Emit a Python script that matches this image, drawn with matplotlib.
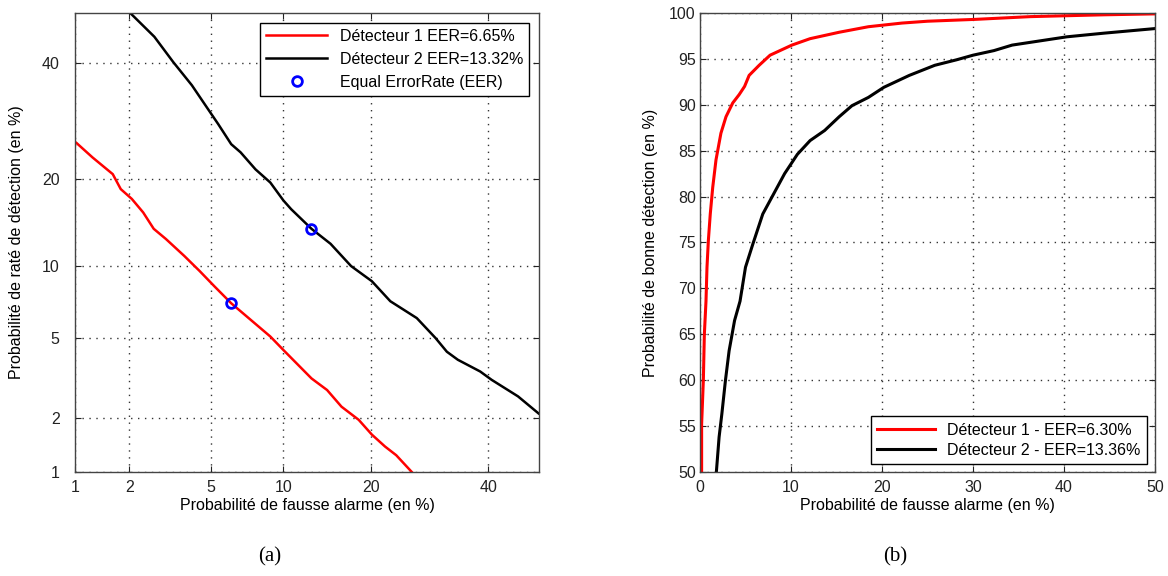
import numpy as np
import matplotlib
matplotlib.use('Agg')
import matplotlib.pyplot as plt
from statistics import NormalDist

# DET curves (a) : false alarm % vs miss %
det1_fa = [1.02, 1.26, 1.63, 1.8, 2.06, 2.36, 2.67, 3.07, 3.77, 4.44, 5.18, 6.14, 8.9, 10.0,
           12.7, 14.4, 16.1, 18.3, 20.1, 22.0, 23.7, 26.4]
det1_miss = [25.5, 23.2, 20.7, 18.6, 17.3, 15.6, 13.7, 12.6, 10.9, 9.55, 8.3, 7.06, 5.05, 4.38,
             3.2, 2.8, 2.3, 1.96, 1.63, 1.40, 1.25, 0.98]
det2_fa = [2.02, 2.69, 3.33, 4.09, 4.89, 5.38, 6.14, 6.73, 7.76, 8.9, 10.0, 10.7, 12.7, 14.8,
           17.3, 20.1, 22.8, 27.0, 30.2, 32.2, 34.2, 38.4, 40.6, 45.8, 49.9]
det2_miss = [50.0, 45.2, 40.2, 35.7, 31.1, 28.7, 25.3, 24.0, 21.4, 19.5, 17.1, 16.0, 13.7, 12.1,
             9.98, 8.7, 7.2, 6.1, 4.97, 4.3, 3.94, 3.46, 3.15, 2.6, 2.12]
eer_fa = [6.14, 12.7]
eer_miss = [7.06, 13.7]

# ROC curves (b) : false alarm % vs detection %
roc1_fa = [0.18, 0.18, 0.37, 0.48, 0.66, 0.77, 0.92, 1.13, 1.4, 1.76, 2.3, 2.86, 3.6, 4.3, 4.9,
           5.4, 6.5, 7.7, 10.1, 12.1, 15.3, 18.5, 22.2, 25.0, 30.2, 36.3, 40.3, 44.4, 50.0]
roc1_pd = [50.0, 55.2, 60.0, 65.0, 68.6, 72.3, 75.2, 78.1, 81.0, 84.0, 86.9, 88.7, 90.2, 91.1, 92.0,
           93.2, 94.3, 95.4, 96.5, 97.2, 97.9, 98.5, 98.9, 99.1, 99.3, 99.6, 99.7, 99.8, 99.9]
roc2_fa = [1.8, 2.1, 2.4, 2.8, 3.2, 3.8, 4.4, 5.0, 5.8, 6.9, 8.1, 9.3, 10.7, 12.1, 13.7, 15.3,
           16.7, 18.5, 20.2, 23.0, 25.8, 28.2, 30.0, 32.3, 34.3, 36.3, 40.3, 44.4, 50.0]
roc2_pd = [50.0, 53.8, 56.3, 60.0, 63.2, 66.5, 68.6, 72.3, 74.8, 78.1, 80.3, 82.5, 84.6, 86.1,
           87.2, 88.7, 89.9, 90.8, 91.9, 93.2, 94.3, 94.9, 95.4, 95.9, 96.5, 96.8, 97.4, 97.8, 98.3]

det_ticks = [1, 2, 5, 10, 20, 40]

nd = NormalDist()
_ppf = np.vectorize(nd.inv_cdf, otypes=[float])
_cdf = np.vectorize(nd.cdf, otypes=[float])


def probit(p):
    p = np.clip(np.asarray(p, dtype=float) / 100.0, 1e-9, 1 - 1e-9)
    return _ppf(p)


def inv_probit(z):
    return _cdf(np.asarray(z, dtype=float)) * 100.0


plt.rcParams['font.family'] = ['Liberation Sans', 'DejaVu Sans']
plt.rcParams['font.size'] = 11.5

fig = plt.figure(figsize=(11.68, 5.76), dpi=100)
ax1 = fig.add_axes([0.0642, 0.1806, 0.3973, 0.7969])
ax2 = fig.add_axes([0.5993, 0.1806, 0.3896, 0.7969])

# (a) DET
ax1.set_xscale('function', functions=(probit, inv_probit))
ax1.set_yscale('function', functions=(probit, inv_probit))
ax1.plot(det1_fa, det1_miss, color='#ff0000', lw=1.8, label='Détecteur 1 EER=6.65%')
ax1.plot(det2_fa, det2_miss, color='black', lw=1.8, label='Détecteur 2 EER=13.32%')
ax1.plot(eer_fa, eer_miss, 'o', mfc='none', mec='#0000ff', mew=2, ms=7, ls='none',
         label='Equal ErrorRate (EER)')
ax1.set_xlim(1, 50)
ax1.set_ylim(1, 50)
ax1.set_xticks(det_ticks)
ax1.set_xticklabels([str(t) for t in det_ticks])
ax1.set_yticks(det_ticks)
ax1.set_yticklabels([str(t) for t in det_ticks])
ax1.minorticks_off()
ax1.tick_params(axis='y', pad=11)
ax1.tick_params(axis='x', pad=6)
ax1.set_xlabel('Probabilité de fausse alarme (en %)', labelpad=2)
ax1.set_ylabel('Probabilité de raté de détection (en %)', labelpad=13)
leg1 = ax1.legend(loc='upper right', fancybox=False, edgecolor='black', framealpha=1,
                  handlelength=3.8, borderaxespad=0.6, labelspacing=0.5)
leg1.get_frame().set_linewidth(1.0)

# (b) ROC
ax2.plot(roc1_fa, roc1_pd, color='#ff0000', lw=2.2, label='Détecteur 1 - EER=6.30%')
ax2.plot(roc2_fa, roc2_pd, color='black', lw=2.2, label='Détecteur 2 - EER=13.36%')
ax2.set_xlim(0, 50)
ax2.set_ylim(50, 100)
ax2.set_xticks(np.arange(0, 51, 10))
ax2.set_yticks(np.arange(50, 101, 5))
ax2.tick_params(axis='x', pad=6)
ax2.tick_params(axis='y', pad=3)
ax2.set_xlabel('Probabilité de fausse alarme (en %)', labelpad=2)
ax2.set_ylabel('Probabilité de bonne détection (en %)', labelpad=8)
leg2 = ax2.legend(loc='lower right', fancybox=False, edgecolor='black', framealpha=1,
                  handlelength=3.6, borderaxespad=0.5, labelspacing=0.3)
leg2.get_frame().set_linewidth(1.0)

for ax in (ax1, ax2):
    ax.grid(True, linestyle=(0, (1, 4)), color='#333333', linewidth=1.0)
    ax.set_axisbelow(True)
    ax.tick_params(direction='in', length=4, top=True, right=True, colors='#222222')
    for s in ax.spines.values():
        s.set_color('#444444')
        s.set_linewidth(1.0)

fig.text(0.231, 0.025, '(a)', family=['Liberation Serif', 'DejaVu Serif'], fontsize=15, ha='center')
fig.text(0.766, 0.025, '(b)', family=['Liberation Serif', 'DejaVu Serif'], fontsize=15, ha='center')

fig.savefig('out.png', dpi=100)
